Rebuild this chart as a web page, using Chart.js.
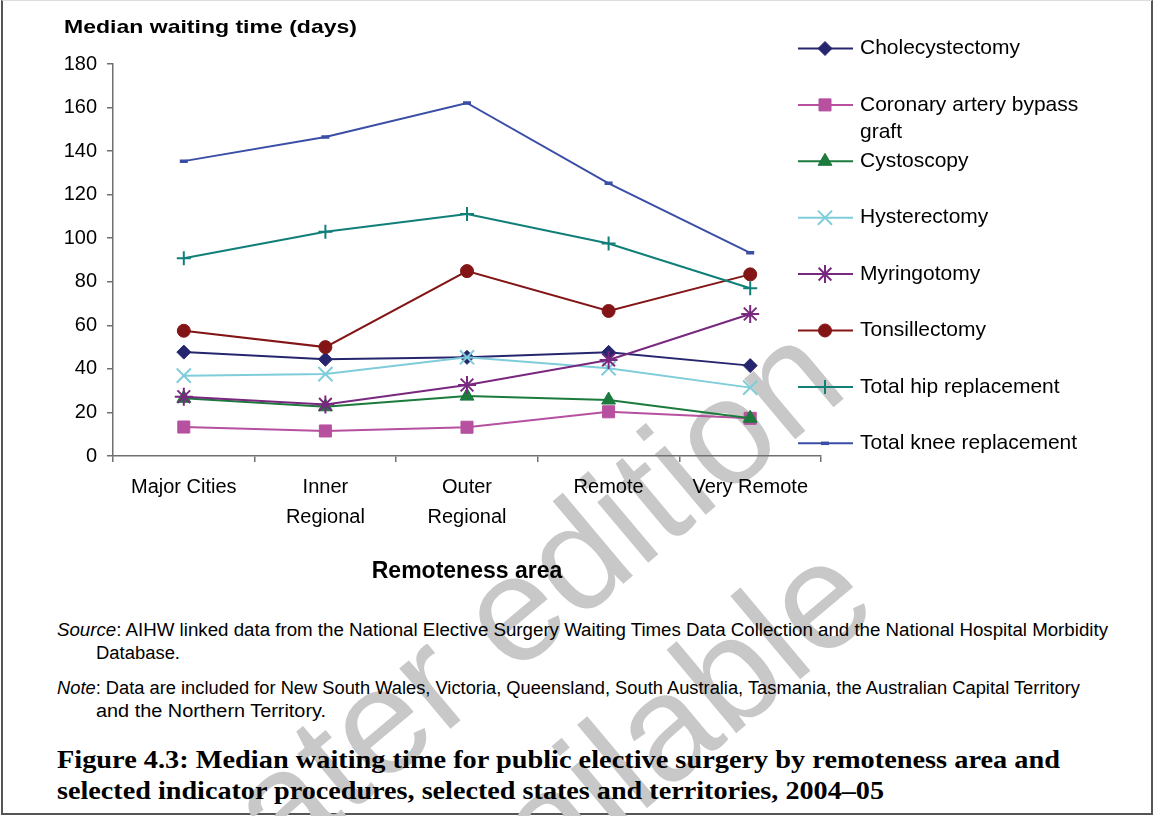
<!DOCTYPE html>
<html><head><meta charset="utf-8">
<script src="https://cdn.jsdelivr.net/npm/chart.js@4.4.0/dist/chart.umd.min.js"></script>
<style>
html,body{margin:0;padding:0;background:#fff;}
body{width:1154px;height:816px;position:relative;overflow:hidden;font-family:"Liberation Sans",Arial,sans-serif;color:#000;}
#frame{position:absolute;left:1px;top:0;width:1152px;height:815px;border-left:2px solid #555;border-right:2px solid #555;border-bottom:2px solid #555;border-top:1px solid #ddd;box-sizing:border-box;}
#wm{position:absolute;left:0;top:0;width:1200px;text-align:center;font-family:"Liberation Sans",Arial,sans-serif;font-size:150px;line-height:187px;color:#c8c8c8;white-space:nowrap;transform-origin:center center;}
#wrap{position:absolute;left:0;top:0;width:1154px;height:600px;}
.t{position:absolute;white-space:nowrap;transform-origin:left center;}
.ytitle{left:64px;top:15px;font-weight:bold;font-size:19px;line-height:24px;}
.src{font-size:18px;line-height:22px;}
.cap{font-family:"Liberation Serif","Times New Roman",serif;font-weight:bold;font-size:25px;line-height:30px;}
</style></head>
<body>
<div id="frame"></div>
<div id="wm">Later edition<br>available</div>
<div id="wrap"><canvas id="c" width="1154" height="600"></canvas></div>
<div class="t ytitle" data-w="293">Median waiting time (days)</div>
<div class="t src" style="left:57px;top:619px" data-w="1051"><i>Source</i>: AIHW linked data from the National Elective Surgery Waiting Times Data Collection and the National Hospital Morbidity</div>
<div class="t src" style="left:96px;top:642px" data-w="84">Database.</div>
<div class="t src" style="left:57px;top:677px" data-w="1023"><i>Note</i>: Data are included for New South Wales, Victoria, Queensland, South Australia, Tasmania, the Australian Capital Territory</div>
<div class="t src" style="left:96px;top:700px" data-w="230">and the Northern Territory.</div>
<div class="t cap" style="left:57px;top:745px" data-w="1003">Figure 4.3: Median waiting time for public elective surgery by remoteness area and</div>
<div class="t cap" style="left:57px;top:776px" data-w="827">selected indicator procedures, selected states and territories, 2004–05</div>
<script>
// ---- data ----
const categories = ['Major Cities', ['Inner', 'Regional'], ['Outer', 'Regional'], 'Remote', 'Very Remote'];
const seriesNames = ['Cholecystectomy', 'Coronary artery bypass graft', 'Cystoscopy', 'Hysterectomy', 'Myringotomy', 'Tonsillectomy', 'Total hip replacement', 'Total knee replacement'];
const legendLabels = [['Cholecystectomy'], ['Coronary artery bypass', 'graft'], ['Cystoscopy'], ['Hysterectomy'], ['Myringotomy'], ['Tonsillectomy'], ['Total hip replacement'], ['Total knee replacement']];
const cholecystectomy = [47.7, 44.4, 45.3, 47.6, 41.5];
const coronaryBypass = [13.3, 11.5, 13.2, 20.3, 17.3];
const cystoscopy = [26.5, 22.6, 27.5, 25.7, 17.3];
const hysterectomy = [36.9, 37.6, 45.3, 40.3, 31.4];
const myringotomy = [27.2, 23.7, 32.6, 44.1, 65.2];
const tonsillectomy = [57.5, 50, 84.9, 66.6, 83.4];
const hipReplacement = [90.8, 103, 111.1, 97.6, 77];
const kneeReplacement = [135.4, 146.5, 162.1, 125.2, 93.3];
const yTicks = [0, 20, 40, 60, 80, 100, 120, 140, 160, 180];

// ---- styles ----
const seriesValues = [cholecystectomy, coronaryBypass, cystoscopy, hysterectomy, myringotomy, tonsillectomy, hipReplacement, kneeReplacement];
const colors = ['#26266f', '#b6509f', '#1b7a3c', '#7fcdd9', '#79287f', '#831516', '#0f7f78', '#3a4ea6'];
const pStyles = ['rectRot', 'rect', 'triangle', 'crossRot', 'star', 'circle', 'cross', 'line'];
const pRadius = [7, 8.5, 8, 10, 9, 6.5, 7, 4];
const pBorder = [1, 1, 1, 2, 2, 1, 2, 3.5];

const datasets = seriesNames.map((n, i) => ({
  label: n,
  data: seriesValues[i],
  borderColor: colors[i],
  backgroundColor: colors[i],
  borderWidth: 2,
  pointStyle: pStyles[i],
  pointRadius: pRadius[i],
  pointHoverRadius: pRadius[i],
  pointBorderWidth: pBorder[i],
  pointBackgroundColor: colors[i],
  pointBorderColor: colors[i],
  tension: 0,
  order: -i
}));

const legendPlugin = {
  id: 'customLegend',
  afterDraw(chart) {
    const ctx = chart.ctx;
    ctx.save();
    ctx.font = '21px "Liberation Sans", Arial, sans-serif';
    ctx.textBaseline = 'middle';
    ctx.textAlign = 'left';
    datasets.forEach((d, i) => {
      const y = 48.5 + i * 56.4;
      ctx.strokeStyle = d.borderColor;
      ctx.lineWidth = 2;
      ctx.beginPath(); ctx.moveTo(798, y); ctx.lineTo(853, y); ctx.stroke();
      ctx.fillStyle = d.backgroundColor;
      ctx.lineWidth = d.pointBorderWidth;
      Chart.helpers.drawPoint(ctx, {pointStyle: d.pointStyle, radius: d.pointRadius, rotation: 0, borderWidth: d.pointBorderWidth}, 825, y);
      ctx.fillStyle = '#000';
      legendLabels[i].forEach((t, k) => ctx.fillText(t, 860, y + k * 27.5));
    });
    ctx.restore();
  }
};

const axisColor = '#707070';
new Chart(document.getElementById('c'), {
  type: 'line',
  data: {labels: categories, datasets},
  plugins: [legendPlugin],
  options: {
    responsive: false,
    animation: false,
    events: [],
    layout: {padding: {left: 0, top: 64, right: 333, bottom: 15}},
    plugins: {legend: {display: false}, tooltip: {enabled: false}, title: {display: false}},
    scales: {
      x: {
        offset: true,
        grid: {display: true, drawOnChartArea: false, offset: true, tickLength: 6, color: axisColor, lineWidth: 1.5},
        border: {display: true, color: axisColor, width: 1.5},
        ticks: {color: '#000', font: {family: '"Liberation Sans", Arial, sans-serif', size: 20, lineHeight: 1.5}, padding: 10, maxRotation: 0, autoSkip: false},
        title: {display: true, text: 'Remoteness area', color: '#000', font: {family: '"Liberation Sans", Arial, sans-serif', size: 23, weight: 'bold', lineHeight: 1.2}, padding: 0},
        afterFit(s) { s.height = 129; }
      },
      y: {
        min: 0, max: 180,
        afterBuildTicks(s) { s.ticks = yTicks.map(v => ({value: v})); },
        grid: {display: true, drawOnChartArea: false, tickLength: 6, color: axisColor, lineWidth: 1.5},
        border: {display: true, color: axisColor, width: 1.5},
        ticks: {color: '#000', font: {family: '"Liberation Sans", Arial, sans-serif', size: 20}, padding: 10},
        afterFit(s) { s.width = 113; }
      }
    }
  }
});

// fit text widths
document.querySelectorAll('.t[data-w]').forEach(el => {
  const w = el.getBoundingClientRect().width;
  const target = +el.dataset.w;
  el.style.transform = 'scaleX(' + (target / w) + ')';
});
// watermark placement
const wm = document.getElementById('wm');
const r = wm.getBoundingClientRect();
wm.style.left = (562 - r.width / 2) + 'px';
wm.style.top = (690 - r.height / 2) + 'px';
wm.style.transform = 'rotate(-40deg)';
</script>
</body></html>
